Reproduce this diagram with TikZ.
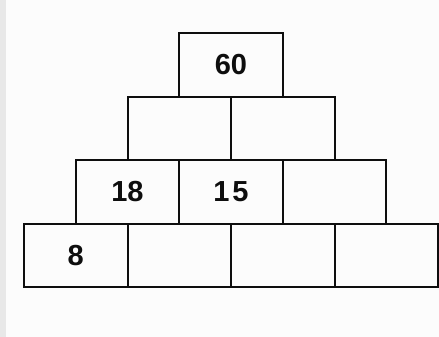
\documentclass[tikz,border=0pt]{standalone}
\usepackage{fontspec}
\newfontfamily\brickfont{Liberation Sans}
\usetikzlibrary{positioning}
\definecolor{ink}{HTML}{0E0E0E}
\definecolor{paper}{HTML}{FCFCFC}
\definecolor{scanedge}{HTML}{E8E8E8}

\tikzset{
  brick/.style={draw=ink, line width=2pt, minimum width=103.5pt,
    minimum height=63.5pt, inner sep=0pt, outer sep=0pt, text=ink,
    font=\brickfont\bfseries\fontsize{29}{29}\selectfont},
}

\begin{document}
\begin{tikzpicture}[x=1pt,y=-1pt]
  \fill[paper] (0,0) rectangle (439,337);
  \fill[scanedge] (0,0) rectangle (6,337);
  \useasboundingbox (0,0) rectangle (439,337);
  % bottom row
  \node[brick] (b1) at (75.75,255.25) {8};
  \node[brick,right=0pt of b1] (b2) {};
  \node[brick,right=0pt of b2] (b3) {};
  \node[brick,right=0pt of b3] (b4) {};
  % third row
  \node[brick,above=0pt of b1.north east] (c1) {18};
  \node[brick,right=0pt of c1] (c2) {1\kern3pt 5};
  \node[brick,right=0pt of c2] (c3) {};
  % second row
  \node[brick,above=0pt of c1.north east] (d1) {};
  \node[brick,right=0pt of d1] (d2) {};
  % top
  \node[brick,above=0pt of d1.north east] (top) {60};
\end{tikzpicture}
\end{document}
